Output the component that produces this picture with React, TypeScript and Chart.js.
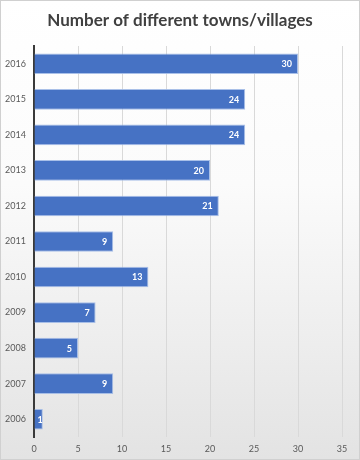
import React, { useEffect, useRef } from "react";
import { Chart, registerables } from "chart.js";

Chart.register(...registerables);

const years = ["2016", "2015", "2014", "2013", "2012", "2011", "2010", "2009", "2008", "2007", "2006"];
const towns = [30, 24, 24, 20, 21, 9, 13, 7, 5, 9, 1];
const xTicks = [0, 5, 10, 15, 20, 25, 30, 35];
const titleText = "Number of different towns/villages";

const FONT = "Lato, 'Open Sans', sans-serif";

const labelPlugin = {
  id: "barLabels",
  afterDatasetsDraw(chart: any) {
    const ctx = chart.ctx;
    const meta = chart.getDatasetMeta(0);
    ctx.save();
    ctx.fillStyle = "#ffffff";
    ctx.font = `bold 9px ${FONT}`;
    ctx.textAlign = "right";
    ctx.textBaseline = "middle";
    meta.data.forEach((el: any, i: number) => {
      const v = String(chart.data.datasets[0].data[i]);
      const w = ctx.measureText(v).width;
      const x = Math.max(el.x - 6, el.base + 3 + w);
      ctx.fillText(v, x, el.y + 0.5);
    });
    ctx.restore();
  },
};

const titlePlugin = {
  id: "centerTitle",
  afterDraw(chart: any) {
    const ctx = chart.ctx;
    ctx.save();
    ctx.fillStyle = "#404040";
    ctx.font = `bold 17px ${FONT}`;
    ctx.textAlign = "center";
    ctx.textBaseline = "middle";
    ctx.fillText(titleText, chart.width / 2, 20);
    ctx.restore();
  },
};

export default function App() {
  const ref = useRef<HTMLCanvasElement>(null);
  useEffect(() => {
    document.body.style.margin = "0";
    const chart = new Chart(ref.current!, {
      type: "bar",
      data: {
        labels: years,
        datasets: [
          {
            data: towns,
            backgroundColor: "#4672C4",
            borderColor: "rgba(160,185,230,0.9)",
            borderWidth: 1,
            borderSkipped: "left",
            categoryPercentage: 1,
            barPercentage: 0.58,
          },
        ],
      },
      options: {
        indexAxis: "y",
        animation: false,
        responsive: false,
        maintainAspectRatio: false,
        layout: { padding: { left: 0, right: 17, top: 45, bottom: 0 } },
        plugins: {
          legend: { display: false },
          tooltip: { enabled: false },
          title: { display: false },
        },
        scales: {
          x: {
            min: 0,
            max: 35,
            afterBuildTicks: (s: any) => {
              s.ticks = xTicks.map((v) => ({ value: v }));
            },
            afterFit: (s: any) => {
              s.height = 22;
            },
            grid: { color: "#d9d9d9", drawTicks: false, lineWidth: 1 },
            border: { display: false },
            ticks: {
              color: "#595959",
              font: { family: FONT, size: 9 },
              padding: 7,
            },
          },
          y: {
            afterFit: (s: any) => {
              s.width = 33;
            },
            grid: { display: false, drawTicks: false },
            border: { display: true, color: "#3a3a3a", width: 2 },
            ticks: {
              color: "#595959",
              font: { family: FONT, size: 9 },
              padding: 8,
            },
          },
        },
      },
      plugins: [labelPlugin, titlePlugin],
    } as any);
    return () => chart.destroy();
  }, []);
  return (
    <div
      style={{
        width: 360,
        height: 460,
        boxSizing: "border-box",
        border: "1px solid #d0d0d0",
        background: "linear-gradient(to bottom, #ffffff 0%, #fbfbfb 40%, #e3e3e3 100%)",
        position: "relative",
      }}
    >
      <canvas ref={ref} width={358} height={458} style={{ display: "block" }} />
    </div>
  );
}
